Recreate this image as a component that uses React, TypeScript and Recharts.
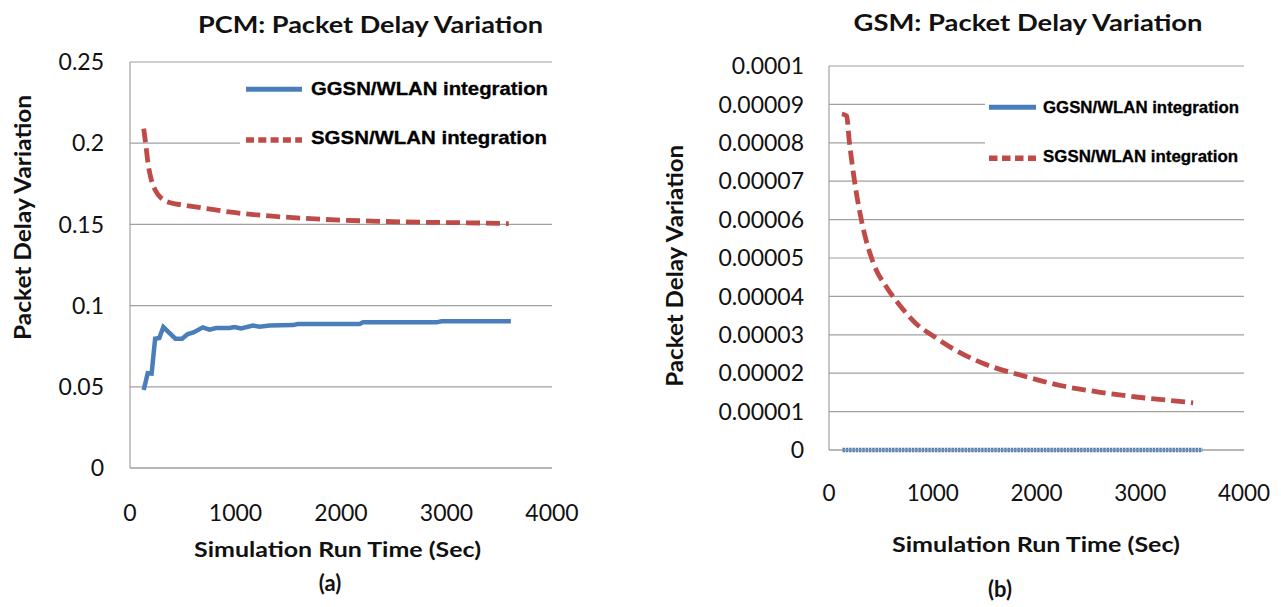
import React from 'react';
import { LineChart, Line, XAxis, YAxis, CartesianGrid, Legend } from 'recharts';

// ---------- data ----------
const xTicks = [0, 1000, 2000, 3000, 4000];
const pcmYTicks = [0, 0.05, 0.1, 0.15, 0.2, 0.25];
const gsmYTicks = [0, 0.00001, 0.00002, 0.00003, 0.00004, 0.00005, 0.00006, 0.00007, 0.00008, 0.00009, 0.0001];

const seriesNames = ['GGSN/WLAN integration', 'SGSN/WLAN integration'];

// (a) PCM
const pcmGgsnTime = [130, 168, 205, 238, 278, 316, 430, 493, 548, 602, 690, 753, 816, 943, 990, 1053, 1164, 1228, 1322, 1544, 1590, 2177, 2208, 2905, 2952, 3610];
const pcmGgsnValue = [0.048, 0.0584, 0.0582, 0.0796, 0.0800, 0.0868, 0.0796, 0.0796, 0.0825, 0.0835, 0.0866, 0.0852, 0.0862, 0.0862, 0.0868, 0.0860, 0.0877, 0.0870, 0.0877, 0.0880, 0.0887, 0.0887, 0.0897, 0.0897, 0.0904, 0.0904];
const pcmSgsnTime = [130, 150, 170, 200, 240, 300, 400, 500, 700, 1000, 1400, 1800, 2300, 2800, 3200, 3590];
const pcmSgsnValue = [0.209, 0.199, 0.188, 0.178, 0.171, 0.166, 0.163, 0.162, 0.160, 0.1572, 0.1548, 0.1532, 0.152, 0.1513, 0.151, 0.1505];

// (b) GSM
const gsmGgsnTime = [130, 3600];
const gsmGgsnValue = [0, 0];
const gsmSgsnTime = [125, 170, 195, 250, 320, 430, 560, 670, 840, 1020, 1200, 1500, 1860, 2230, 2600, 2960, 3250, 3510];
const gsmSgsnValue = [0.0000875, 0.000087, 0.0000806, 0.0000693, 0.0000589, 0.0000485, 0.0000422, 0.0000381, 0.0000329, 0.0000294, 0.0000263, 0.0000224, 0.0000194, 0.0000168, 0.0000151, 0.0000138, 0.000013, 0.0000123];

const zip = (t: number[], v: number[]) => t.map((x, i) => ({ t: x, v: v[i] }));
const pcmGgsn = zip(pcmGgsnTime, pcmGgsnValue);
const pcmSgsn = zip(pcmSgsnTime, pcmSgsnValue);
const gsmGgsn = zip(gsmGgsnTime, gsmGgsnValue);
const gsmSgsn = zip(gsmSgsnTime, gsmSgsnValue);

// ---------- styles ----------
const BLUE = '#4a7ebb';
const RED = '#be4b48';
const GRID = '#a0a0a0';
const FONT = 'Lato, "Open Sans", sans-serif';
const LEGEND_FONT = '"Liberation Sans", Arial, sans-serif';

type LegendCfg = {
  w: number;
  h: number;
  x1: number;
  x2: number;
  tx: number;
  rows: { ly: number; ty: number; tl: number }[];
  fontSize: number;
  dotDash: string;
};

function makeLegend(cfg: LegendCfg) {
  return (props: any) => {
    const payload: any[] = props && props.payload ? props.payload : [];
    return (
      <svg width={cfg.w} height={cfg.h} style={{ display: 'block', background: '#ffffff' }}>
        <rect x={0} y={0} width={cfg.w} height={cfg.h} fill="#ffffff" />
        {payload.map((p, i) => {
          const row = cfg.rows[i] || cfg.rows[0];
          const dashed = i === 1;
          return (
            <g key={i}>
              <line
                x1={cfg.x1}
                x2={cfg.x2}
                y1={row.ly}
                y2={row.ly}
                stroke={p.color}
                strokeWidth={dashed ? 5.5 : 5}
                strokeDasharray={dashed ? cfg.dotDash : undefined}
              />
              <text
                x={cfg.tx}
                y={row.ty}
                fontFamily={LEGEND_FONT}
                fontWeight={700}
                fontSize={cfg.fontSize}
                fill="#000"
                stroke="#000"
                strokeWidth={0.3}
                textLength={row.tl}
                lengthAdjust="spacingAndGlyphs"
              >
                {p.value}
              </text>
            </g>
          );
        })}
      </svg>
    );
  };
}

const legendA = makeLegend({
  w: 313,
  h: 94,
  x1: 6,
  x2: 62,
  tx: 71,
  rows: [
    { ly: 23.3, ty: 29, tl: 237 },
    { ly: 74, ty: 78.3, tl: 236 },
  ],
  fontSize: 18.5,
  dotDash: '8 4.3',
});

const legendB = makeLegend({
  w: 259,
  h: 82,
  x1: 4,
  x2: 51,
  tx: 58,
  rows: [
    { ly: 19.3, ty: 25.3, tl: 196 },
    { ly: 70.3, ty: 73.7, tl: 195 },
  ],
  fontSize: 16.3,
  dotDash: '8.5 4.5',
});

const titleStyle = { fontFamily: FONT, fontWeight: 700, fill: '#111' } as const;

const xTitle = (x: number, y: number, len: number) => () => (
  <text x={x} y={y} textAnchor="middle" fontSize={21} textLength={len} lengthAdjust="spacingAndGlyphs" {...titleStyle}>
    Simulation Run Time (Sec)
  </text>
);

const yTitle = (x: number, y: number, len: number) => () => (
  <text
    x={x}
    y={y}
    transform={`rotate(-90 ${x} ${y})`}
    textAnchor="middle"
    fontSize={22}
    textLength={len}
    lengthAdjust="spacingAndGlyphs"
    {...titleStyle}
  >
    Packet Delay Variation
  </text>
);

const fmtGsm = (v: number) => String(v);

export default function App() {
  return (
    <div style={{ position: 'absolute', left: 0, top: 0, width: 1281, height: 607, background: '#ffffff', overflow: 'hidden' }}>
      {/* (a) PCM */}
      <div style={{ position: 'absolute', left: 0, top: 0 }}>
        <LineChart width={640} height={607} margin={{ top: 62, right: 88, bottom: 99, left: 0 }}>
          <CartesianGrid vertical={false} stroke={GRID} strokeWidth={1.2} />
          <XAxis
            type="number"
            dataKey="t"
            domain={[0, 4000]}
            ticks={xTicks}
            interval={0}
            height={40}
            tickLine={false}
            tickSize={0}
            tickMargin={37}
            axisLine={{ stroke: GRID, strokeWidth: 1.2 }}
            tick={{ fontFamily: FONT, fontSize: 23, fill: '#111' }}
            label={{ value: 'Simulation Run Time (Sec)', content: xTitle(337.5, 557, 287) }}
          />
          <YAxis
            type="number"
            domain={[0, 0.25]}
            ticks={pcmYTicks}
            interval={0}
            width={130}
            tickLine={false}
            tickSize={0}
            tickMargin={26}
            axisLine={{ stroke: GRID, strokeWidth: 1.2 }}
            tick={{ fontFamily: FONT, fontSize: 23, fill: '#111' }}
            label={{ value: 'Packet Delay Variation', content: yTitle(31, 217.5, 245) }}
          />
          <Line
            data={pcmGgsn}
            dataKey="v"
            name={seriesNames[0]}
            type="linear"
            stroke={BLUE}
            strokeWidth={4.5}
            dot={false}
            activeDot={false}
            isAnimationActive={false}
          />
          <Line
            data={pcmSgsn}
            dataKey="v"
            name={seriesNames[1]}
            type="monotone"
            stroke={RED}
            strokeWidth={4.8}
            strokeDasharray="14 6"
            dot={false}
            activeDot={false}
            isAnimationActive={false}
          />
          <Legend
            layout="vertical"
            align="center"
            verticalAlign="middle"
            content={legendA}
            wrapperStyle={{ position: 'absolute', left: 240, top: 66, width: 313, height: 94, margin: 0, padding: 0 }}
          />
        </LineChart>
      </div>

      {/* (b) GSM */}
      <div style={{ position: 'absolute', left: 640, top: 0 }}>
        <LineChart width={641} height={607} margin={{ top: 66, right: 37, bottom: 117, left: 0 }}>
          <CartesianGrid vertical={false} stroke={GRID} strokeWidth={1.2} />
          <XAxis
            type="number"
            dataKey="t"
            domain={[0, 4000]}
            ticks={xTicks}
            interval={0}
            height={40}
            tickLine={false}
            tickSize={0}
            tickMargin={35}
            axisLine={{ stroke: GRID, strokeWidth: 1.2 }}
            tick={{ fontFamily: FONT, fontSize: 22.5, fill: '#111' }}
            label={{ value: 'Simulation Run Time (Sec)', content: xTitle(396, 551.7, 288) }}
          />
          <YAxis
            type="number"
            domain={[0, 0.0001]}
            ticks={gsmYTicks}
            interval={0}
            width={189}
            tickLine={false}
            tickSize={0}
            tickMargin={25}
            tickFormatter={fmtGsm}
            axisLine={{ stroke: GRID, strokeWidth: 1.2 }}
            tick={{ fontFamily: FONT, fontSize: 23, fill: '#111' }}
            label={{ value: 'Packet Delay Variation', content: yTitle(43.5, 265.8, 242) }}
          />
          <Line
            data={gsmGgsn}
            dataKey="v"
            name={seriesNames[0]}
            type="linear"
            stroke={BLUE}
            strokeWidth={4.5}
            strokeDasharray="2.5 0.8"
            dot={false}
            activeDot={false}
            isAnimationActive={false}
          />
          <Line
            data={gsmSgsn}
            dataKey="v"
            name={seriesNames[1]}
            type="monotone"
            stroke={RED}
            strokeWidth={4.8}
            strokeDasharray="14 6"
            dot={false}
            activeDot={false}
            isAnimationActive={false}
          />
          <Legend
            layout="vertical"
            align="center"
            verticalAlign="middle"
            content={legendB}
            wrapperStyle={{ position: 'absolute', left: 345, top: 88, width: 259, height: 82, margin: 0, padding: 0 }}
          />
        </LineChart>
      </div>

      {/* titles and captions */}
      <svg width={1281} height={607} style={{ position: 'absolute', left: 0, top: 0, pointerEvents: 'none' }}>
        <text x={370.5} y={33} textAnchor="middle" fontSize={23} textLength={345} lengthAdjust="spacingAndGlyphs" {...titleStyle}>
          PCM: Packet Delay Variation
        </text>
        <text x={1028} y={31} textAnchor="middle" fontSize={23} textLength={349} lengthAdjust="spacingAndGlyphs" {...titleStyle}>
          GSM: Packet Delay Variation
        </text>
        <text x={330} y={591} textAnchor="middle" fontSize={22} {...titleStyle}>
          (a)
        </text>
        <text x={1000} y={597} textAnchor="middle" fontSize={22} {...titleStyle}>
          (b)
        </text>
      </svg>
    </div>
  );
}
